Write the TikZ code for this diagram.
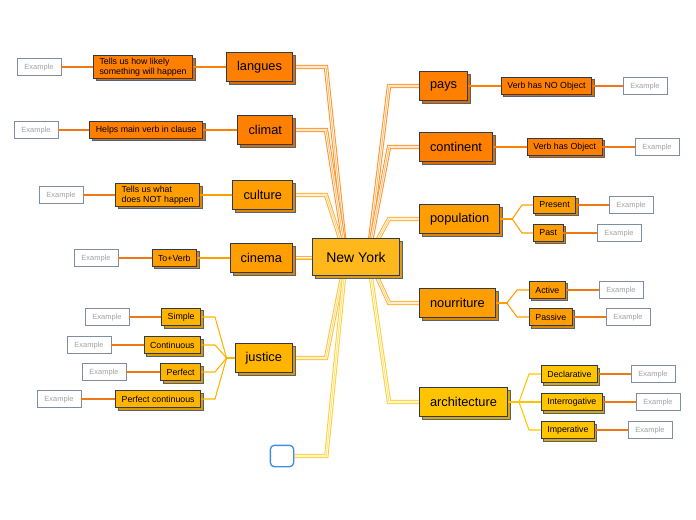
\documentclass[tikz,border=0pt]{standalone}
\usepackage{fontspec}
\setmainfont{Liberation Sans}
\usetikzlibrary{shadows,backgrounds}

\definecolor{deeporange}{HTML}{FF8000}
\definecolor{midorange}{HTML}{FF9E00}
\definecolor{goldorange}{HTML}{FFB400}
\definecolor{goldyellow}{HTML}{FFC400}
\definecolor{nyfill}{HTML}{FFB81C}
\definecolor{edgeslate}{HTML}{2E3A50}
\definecolor{exedge}{HTML}{7F8CA6}
\definecolor{extext}{HTML}{A3A3A3}
\definecolor{blankblue}{HTML}{3C8EE6}
\definecolor{exline}{HTML}{F07814}
\colorlet{trunkdeep}{deeporange!85}
\colorlet{trunkmid}{midorange!80}
\colorlet{trunkgold}{goldorange!80}
\colorlet{trunkyellow}{goldyellow!80}

\begin{document}
\begin{tikzpicture}[
        x=0.75pt, y=-0.75pt,
        every node/.style={font=\fontsize{6.6}{7.6}\selectfont},
        topic/.style={
            draw=edgeslate,
            fill=#1,
            line width=0.6pt,
            font=\fontsize{9.6}{11}\selectfont,
            inner xsep=8pt,
            minimum height=21.75pt,
            copy shadow={shadow xshift=2.2pt, shadow yshift=-2.2pt,
                fill=#1!85!black, draw=edgeslate!80}
        },
        sub/.style={
            draw=edgeslate,
            fill=#1,
            line width=0.6pt,
            inner xsep=4.5pt,
            inner ysep=1.5pt,
            minimum height=12.75pt,
            align=left,
            copy shadow={shadow xshift=1.8pt, shadow yshift=-1.8pt,
                fill=#1!85!black, draw=edgeslate!80}
        },
        example/.style={
            draw=exedge,
            fill=white,
            line width=0.6pt,
            text=extext,
            font=\fontsize{5.6}{7}\selectfont,
            text height=4pt,
            text depth=0.5pt,
            minimum width=33pt,
            minimum height=12.75pt,
            inner sep=0pt
        },
        twig/.style={draw=#1, line width=0.8pt},
        exwire/.style={draw=exline, line width=0.8pt},
        trunk/.style={
            draw=#1,
            line width=3.3pt,
            postaction={draw=white, line width=1.8pt},
            postaction={draw=#1!60, line width=0.7pt}
        }
    ]

    \useasboundingbox (0,0) rectangle (696,520);

    % Central node
    \node[topic=nyfill, minimum height=27.75pt, inner xsep=10.5pt,
        font=\fontsize{10.5}{12}\selectfont] (ny) at (356,257) {New York};

    % Left topics
    \node[topic=deeporange, anchor=east] (langues) at (293,67) {langues};
    \node[topic=deeporange, anchor=east] (climat)  at (293,130) {climat};
    \node[topic=midorange, anchor=east] (culture)  at (293,195) {culture};
    \node[topic=midorange, anchor=east] (cinema)   at (293,258) {cinema};
    \node[topic=goldorange, anchor=east] (justice) at (293,358) {justice};
    \node[draw=blankblue, fill=white, line width=1pt, rounded corners=3pt,
        minimum width=17.5pt, minimum height=16pt] (blank) at (282,456) {};

    % Right topics
    \node[topic=deeporange, anchor=west] (pays)        at (419,86) {pays};
    \node[topic=deeporange, anchor=west] (continent)   at (419,147) {continent};
    \node[topic=midorange, anchor=west] (population)   at (419,219) {population};
    \node[topic=midorange, anchor=west] (nourriture)   at (419,303) {nourriture};
    \node[topic=goldyellow, anchor=west] (architecture) at (419,402) {architecture};

    % Left subtopics
    \node[sub=deeporange, anchor=east] (likely) at (193,67) {Tells us how likely\\something will happen};
    \node[sub=deeporange, anchor=east] (helps)  at (203,130) {Helps main verb in clause};
    \node[sub=midorange, anchor=east] (notwhat) at (200,195) {Tells us what\\does NOT happen};
    \node[sub=midorange, anchor=east] (toverb)  at (197,258) {To+Verb};
    \node[sub=goldorange, anchor=east] (simple)   at (201,317) {Simple};
    \node[sub=goldorange, anchor=east] (cont)     at (201,345) {Continuous};
    \node[sub=goldorange, anchor=east] (perf)     at (201,372) {Perfect};
    \node[sub=goldorange, anchor=east] (perfcont) at (201,399) {Perfect continuous};

    % Right subtopics
    \node[sub=deeporange, anchor=west] (noobj)  at (501,86) {Verb has NO Object};
    \node[sub=deeporange, anchor=west] (hasobj) at (527,147) {Verb has Object};
    \node[sub=midorange, anchor=west] (present) at (533,205) {Present};
    \node[sub=midorange, anchor=west] (past)    at (533,233) {Past};
    \node[sub=midorange, anchor=west] (active)  at (529,290) {Active};
    \node[sub=midorange, anchor=west] (passive) at (529,317) {Passive};
    \node[sub=goldyellow, anchor=west] (decl)   at (541,374) {Declarative};
    \node[sub=goldyellow, anchor=west] (interr) at (541,402) {Interrogative};
    \node[sub=goldyellow, anchor=west] (imper)  at (541,430) {Imperative};

    % Examples
    \node[example] (exlikely)   at (39,67)   {Example};
    \node[example] (exhelps)    at (36,130)  {Example};
    \node[example] (exnotwhat)  at (61,195)  {Example};
    \node[example] (extoverb)   at (96,258)  {Example};
    \node[example] (exsimple)   at (107,317) {Example};
    \node[example] (excont)     at (89,345)  {Example};
    \node[example] (experf)     at (104,372) {Example};
    \node[example] (experfcont) at (59,399)  {Example};
    \node[example] (exnoobj)    at (645,86)  {Example};
    \node[example] (exhasobj)   at (657,147) {Example};
    \node[example] (expresent)  at (631,205) {Example};
    \node[example] (expast)     at (619,233) {Example};
    \node[example] (exactive)   at (621,290) {Example};
    \node[example] (expassive)  at (628,317) {Example};
    \node[example] (exdecl)     at (653,374) {Example};
    \node[example] (exinterr)   at (658,402) {Example};
    \node[example] (eximper)    at (650,430) {Example};

    \begin{scope}[on background layer]
        % Trunks to the centre
        \draw[trunk=trunkdeep] (langues.east) -- ++(33,0) -- ([xshift=-7.5pt]ny.center);
        \draw[trunk=trunkdeep] (climat.east) -- ++(33,0) -- ([xshift=-7.5pt]ny.center);
        \draw[trunk=trunkmid] (culture.east) -- ++(33,0) -- ([xshift=-7.5pt]ny.center);
        \draw[trunk=trunkmid] (cinema.east) -- (cinema.east -| ny.west);
        \draw[trunk=trunkgold] (justice.east) -- ++(33,0) -- ([xshift=-7.5pt]ny.center);
        \draw[trunk=trunkyellow] (blank.east) -- ++(32,0) -- ([xshift=-7.5pt]ny.center);
        \draw[trunk=trunkdeep] (pays.west) -- ++(-30,0) -- ([xshift=9pt]ny.center);
        \draw[trunk=trunkdeep] (continent.west) -- ++(-30,0) -- ([xshift=9pt]ny.center);
        \draw[trunk=trunkmid] (population.west) -- ++(-30,0) -- ([xshift=9pt]ny.center);
        \draw[trunk=trunkmid] (nourriture.west) -- ++(-30,0) -- ([xshift=9pt]ny.center);
        \draw[trunk=trunkyellow] (architecture.west) -- ++(-30,0) -- ([xshift=9pt]ny.center);
    \end{scope}

    % Topic to subtopic
    \draw[twig=deeporange] (langues.west) -- (likely.east);
    \draw[twig=deeporange] (climat.west) -- (helps.east);
    \draw[twig=midorange] (culture.west) -- (notwhat.east);
    \draw[twig=midorange] (cinema.west) -- (toverb.east);
    \draw[twig=deeporange] (pays.east) -- (noobj.west);
    \draw[twig=deeporange] (continent.east) -- (hasobj.west);

    % Forks
    \draw[twig=goldorange] (justice.west) -- ++(-8,0) coordinate (jfork);
    \foreach \k in {simple,cont,perf,perfcont}
        \draw[twig=goldorange] (jfork) -- ([xshift=10.5pt]\k.east) -- (\k.east);
    \draw[twig=midorange] (population.east) -- ++(12,0) coordinate (pfork);
    \foreach \k in {present,past}
        \draw[twig=midorange] (pfork) -- ([xshift=-8.25pt]\k.west) -- (\k.west);
    \draw[twig=midorange] (nourriture.east) -- ++(11,0) coordinate (nfork);
    \foreach \k in {active,passive}
        \draw[twig=midorange] (nfork) -- ([xshift=-9pt]\k.west) -- (\k.west);
    \draw[twig=goldyellow] (architecture.east) -- ++(11,0) coordinate (afork);
    \foreach \k in {decl,interr,imper}
        \draw[twig=goldyellow] (afork) -- ([xshift=-9pt]\k.west) -- (\k.west);

    % Subtopic to example
    \foreach \k in {likely,helps,notwhat,toverb,simple,cont,perf,perfcont}
        \draw[exwire] (\k.west) -- (ex\k.east);
    \foreach \k in {noobj,hasobj,present,past,active,passive,decl,interr,imper}
        \draw[exwire] (\k.east) -- (ex\k.west);

\end{tikzpicture}
\end{document}
